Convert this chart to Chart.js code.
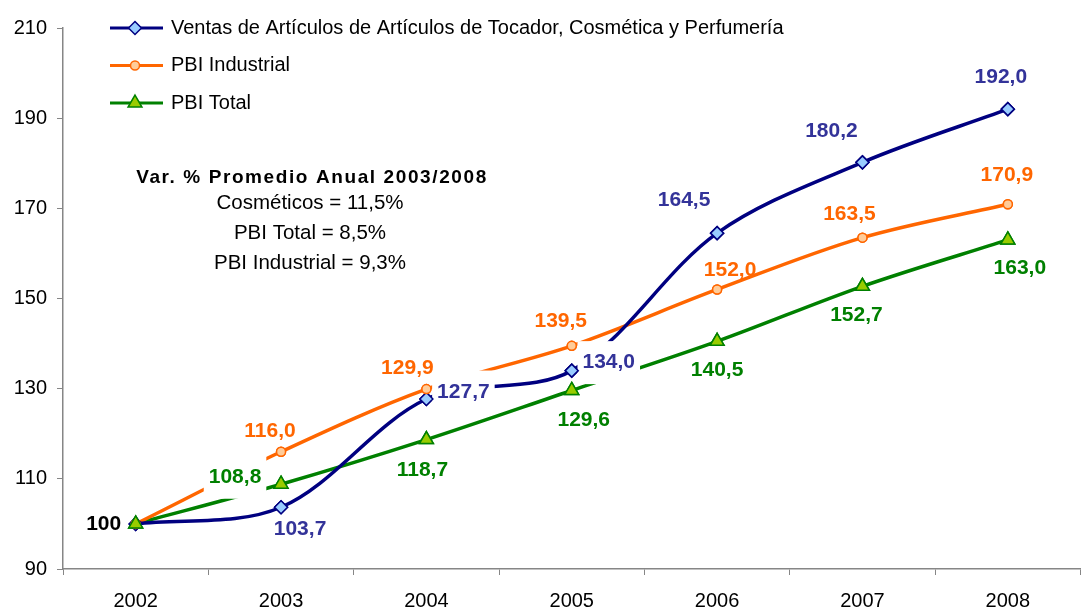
<!DOCTYPE html>
<html lang="es">
<head>
  <meta charset="UTF-8">
  <title>Ventas de Artículos de Tocador vs PBI</title>
  <script src="https://cdn.jsdelivr.net/npm/chart.js"></script>
  <style>
    html, body { margin: 0; padding: 0; background: #fff; }
    canvas { display: block; }
  </style>
</head>
<body>
  <canvas id="chart" width="1090" height="610"></canvas>

  <script>
    // data
    const years = ['2002', '2003', '2004', '2005', '2006', '2007', '2008'];
    const ventas = [100, 103.7, 127.7, 134.0, 164.5, 180.2, 192.0];
    const pbiIndustrial = [100, 116.0, 129.9, 139.5, 152.0, 163.5, 170.9];
    const pbiTotal = [100, 108.8, 118.7, 129.6, 140.5, 152.7, 163.0];
    const seriesNames = [
      'Ventas de Artículos de Artículos de Tocador, Cosmética y Perfumería',
      'PBI Industrial',
      'PBI Total'
    ];
    const noteTitle = 'Var. % Promedio Anual 2003/2008';
    const noteLines = ['Cosméticos = 11,5%', 'PBI Total = 8,5%', 'PBI Industrial = 9,3%'];

    // label placement relative to its point: [dx, dy, white box?]  (null = no label)
    const ventasLabelPos = [[-32, -1], [19, 20], [37, -9, 1], [37, -10, 1], [-33, -35], [-31, -33], [-7, -34]];
    const industrialLabelPos = [null, [-11, -22], [-19, -23], [-11, -26], [13, -21], [-13, -25], [-1, -31]];
    const totalLabelPos = [null, [-46, -9, 1], [-4, 29], [12, 28], [0, 27], [-6, 27], [12, 27]];

    const FONT = "'Liberation Sans', Arial, sans-serif";

    function fmt(v, i) {
      if (i === 0) return String(Math.round(v));
      return v.toFixed(1).replace('.', ',');
    }

    // value labels (some with a white box over the lines), markers redrawn on top
    const valueLabels = {
      id: 'valueLabels',
      afterDatasetsDraw(chart) {
        const ctx = chart.ctx;
        ctx.save();
        ctx.font = 'bold 21px ' + FONT;
        ctx.textAlign = 'center';
        ctx.textBaseline = 'alphabetic';
        chart.data.datasets.forEach((ds, di) => {
          const meta = chart.getDatasetMeta(di);
          ds.data.forEach((v, i) => {
            const pos = ds.labelPos[i];
            if (!pos) return;
            const pt = meta.data[i];
            const cx = pt.x + pos[0];
            const base = pt.y + pos[1] + 7.5;
            const text = fmt(v, i);
            const w = ctx.measureText(text).width;
            if (pos[2]) {
              ctx.fillStyle = '#ffffff';
              ctx.fillRect(cx - w / 2 - 5, base - 27, w + 10, 43);
            }
            ctx.fillStyle = i === 0 ? '#000000' : ds.labelColor;
            ctx.fillText(text, cx, base);
          });
        });
        ctx.restore();
        chart.data.datasets.forEach((ds, di) => {
          chart.getDatasetMeta(di).data.forEach(p => p.draw(ctx, chart.chartArea));
        });
      }
    };

    // legend inside the plot and the note with average growth
    const extras = {
      id: 'extras',
      afterDraw(chart) {
        const ctx = chart.ctx;
        ctx.save();
        chart.data.datasets.forEach((ds, i) => {
          const y = 28 + i * 37.5;
          ctx.strokeStyle = ds.borderColor;
          ctx.lineWidth = 3;
          ctx.beginPath();
          ctx.moveTo(110, y);
          ctx.lineTo(163, y);
          ctx.stroke();
          ctx.fillStyle = ds.pointBackgroundColor;
          ctx.strokeStyle = ds.pointBorderColor;
          ctx.lineWidth = ds.pointBorderWidth;
          Chart.helpers.drawPoint(ctx, {
            pointStyle: ds.pointStyle, radius: ds.pointRadius,
            borderWidth: ds.pointBorderWidth, rotation: 0
          }, 135, y);
          ctx.fillStyle = '#000';
          ctx.font = '20px ' + FONT;
          ctx.textAlign = 'left';
          ctx.textBaseline = 'middle';
          ctx.fillText(seriesNames[i], 171, y);
        });

        ctx.textAlign = 'center';
        ctx.textBaseline = 'alphabetic';
        ctx.fillStyle = '#000';
        ctx.font = 'bold 19px ' + FONT;
        ctx.letterSpacing = '1.6px';
        ctx.fillText(noteTitle, 312, 183);
        ctx.letterSpacing = '0px';
        ctx.font = '20.5px ' + FONT;
        noteLines.forEach((t, i) => ctx.fillText(t, 310, 209 + i * 30));
        ctx.restore();
      }
    };

    const axisColor = '#868686';

    new Chart(document.getElementById('chart'), {
      type: 'line',
      data: {
        labels: years,
        datasets: [
          {
            label: seriesNames[0],
            data: ventas,
            labelPos: ventasLabelPos,
            labelColor: '#333399',
            borderColor: '#000080',
            borderWidth: 3.5,
            pointStyle: 'rectRot',
            pointRadius: 6.5,
            pointBackgroundColor: '#99CCFF',
            pointBorderColor: '#000080',
            pointBorderWidth: 1.5,
            tension: 0.33
          },
          {
            label: seriesNames[1],
            data: pbiIndustrial,
            labelPos: industrialLabelPos,
            labelColor: '#FF6600',
            borderColor: '#FF6600',
            borderWidth: 3.5,
            pointStyle: 'circle',
            pointRadius: 4.5,
            pointBackgroundColor: '#FFCC99',
            pointBorderColor: '#FF6600',
            pointBorderWidth: 1.5,
            tension: 0.33
          },
          {
            label: seriesNames[2],
            data: pbiTotal,
            labelPos: totalLabelPos,
            labelColor: '#008000',
            borderColor: '#008000',
            borderWidth: 3.5,
            pointStyle: 'triangle',
            pointRadius: 8,
            pointBackgroundColor: '#99CC00',
            pointBorderColor: '#008000',
            pointBorderWidth: 1.5,
            tension: 0.33
          }
        ]
      },
      options: {
        responsive: false,
        animation: false,
        events: [],
        layout: { padding: { top: 28, right: 2, left: 0, bottom: 0 } },
        plugins: {
          legend: { display: false },
          tooltip: { enabled: false }
        },
        scales: {
          x: {
            offset: true,
            grid: { display: true, offset: true, drawOnChartArea: false, tickLength: 6, color: axisColor },
            border: { color: axisColor, width: 1.5 },
            ticks: { color: '#000', font: { family: FONT, size: 20 }, padding: 14 },
            afterFit(s) { s.height = 41; }
          },
          y: {
            min: 90,
            max: 210,
            grid: { display: true, drawOnChartArea: false, tickLength: 6, color: axisColor },
            border: { color: axisColor, width: 1.5 },
            ticks: { stepSize: 20, color: '#000', font: { family: FONT, size: 20 }, padding: 10 },
            afterFit(s) { s.width = 63; }
          }
        }
      },
      plugins: [valueLabels, extras]
    });
  </script>
</body>
</html>
